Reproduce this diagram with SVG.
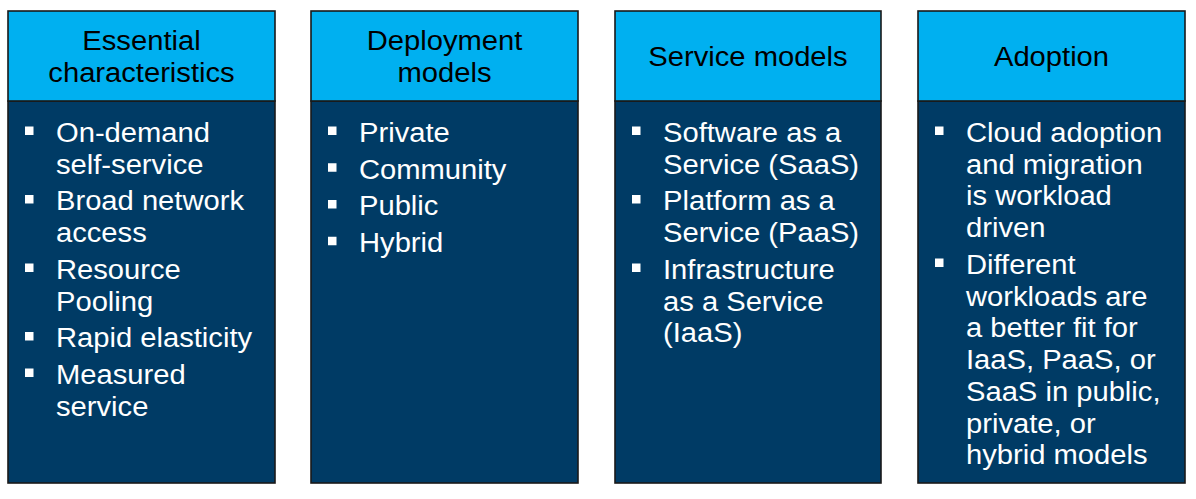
<svg xmlns="http://www.w3.org/2000/svg" width="1196" height="499" viewBox="0 0 1196 499">
<style>
.hd{fill:#00b0f0;stroke:#1a1a1a;stroke-width:1.6}
.bd{fill:#003b65;stroke:#1a1a1a;stroke-width:1.6}
.ht{font-family:"Liberation Sans",Arial,sans-serif;font-size:27px;fill:#000;text-anchor:middle}
.bt{font-family:"Liberation Sans",Arial,sans-serif;font-size:27px;fill:#fff}
.bl{fill:#fff}
</style>
<rect width="1196" height="499" fill="#fff"/>
<g id="col-essential">
<rect class="bd" x="8" y="101" width="267" height="382"/>
<rect class="hd" x="8" y="11" width="267" height="90"/>
<g transform="translate(141.5,0) scale(1.08,1)">
<text class="ht" x="0" y="50.5">Essential</text>
<text class="ht" x="0" y="82">characteristics</text>
</g>
<rect class="bl" x="25" y="126.5" width="8.5" height="8.5"/>
<rect class="bl" x="25" y="195" width="8.5" height="8.5"/>
<rect class="bl" x="25" y="263.5" width="8.5" height="8.5"/>
<rect class="bl" x="25" y="332" width="8.5" height="8.5"/>
<rect class="bl" x="25" y="368.5" width="8.5" height="8.5"/>
<g transform="translate(56,1) scale(1.08,1)">
<text class="bt" x="0" y="141">On-demand</text>
<text class="bt" x="0" y="172.75">self-service</text>
<text class="bt" x="0" y="209.5">Broad network</text>
<text class="bt" x="0" y="241.25">access</text>
<text class="bt" x="0" y="278">Resource</text>
<text class="bt" x="0" y="309.75">Pooling</text>
<text class="bt" x="0" y="346.5">Rapid elasticity</text>
<text class="bt" x="0" y="383.25">Measured</text>
<text class="bt" x="0" y="415">service</text>
</g>
</g>
<g id="col-deployment">
<rect class="bd" x="311" y="101" width="267" height="382"/>
<rect class="hd" x="311" y="11" width="267" height="90"/>
<g transform="translate(444.5,0) scale(1.08,1)">
<text class="ht" x="0" y="50.5">Deployment</text>
<text class="ht" x="0" y="82">models</text>
</g>
<rect class="bl" x="328" y="126.5" width="8.5" height="8.5"/>
<rect class="bl" x="328" y="163.25" width="8.5" height="8.5"/>
<rect class="bl" x="328" y="200" width="8.5" height="8.5"/>
<rect class="bl" x="328" y="236.75" width="8.5" height="8.5"/>
<g transform="translate(359,1) scale(1.08,1)">
<text class="bt" x="0" y="141">Private</text>
<text class="bt" x="0" y="177.75">Community</text>
<text class="bt" x="0" y="214.5">Public</text>
<text class="bt" x="0" y="251.25">Hybrid</text>
</g>
</g>
<g id="col-service">
<rect class="bd" x="615" y="101" width="266" height="382"/>
<rect class="hd" x="615" y="11" width="266" height="90"/>
<g transform="translate(748,0) scale(1.08,1)">
<text class="ht" x="0" y="66">Service models</text>
</g>
<rect class="bl" x="632" y="126.5" width="8.5" height="8.5"/>
<rect class="bl" x="632" y="195" width="8.5" height="8.5"/>
<rect class="bl" x="632" y="263.5" width="8.5" height="8.5"/>
<g transform="translate(663,1) scale(1.08,1)">
<text class="bt" x="0" y="141">Software as a</text>
<text class="bt" x="0" y="172.75">Service (SaaS)</text>
<text class="bt" x="0" y="209.5">Platform as a</text>
<text class="bt" x="0" y="241.25">Service (PaaS)</text>
<text class="bt" x="0" y="278">Infrastructure</text>
<text class="bt" x="0" y="309.75">as a Service</text>
<text class="bt" x="0" y="341.5">(IaaS)</text>
</g>
</g>
<g id="col-adoption">
<rect class="bd" x="918" y="101" width="267" height="382"/>
<rect class="hd" x="918" y="11" width="267" height="90"/>
<g transform="translate(1051.5,0) scale(1.08,1)">
<text class="ht" x="0" y="66">Adoption</text>
</g>
<rect class="bl" x="935" y="126.5" width="8.5" height="8.5"/>
<rect class="bl" x="935" y="258.5" width="8.5" height="8.5"/>
<g transform="translate(966,1) scale(1.08,1)">
<text class="bt" x="0" y="141">Cloud adoption</text>
<text class="bt" x="0" y="172.75">and migration</text>
<text class="bt" x="0" y="204.5">is workload</text>
<text class="bt" x="0" y="236.25">driven</text>
<text class="bt" x="0" y="273">Different</text>
<text class="bt" x="0" y="304.75">workloads are</text>
<text class="bt" x="0" y="336.5">a better fit for</text>
<text class="bt" x="0" y="368.25">IaaS, PaaS, or</text>
<text class="bt" x="0" y="400">SaaS in public,</text>
<text class="bt" x="0" y="431.75">private, or</text>
<text class="bt" x="0" y="463.5">hybrid models</text>
</g>
</g>
<g id="connectors"/>
</svg>
